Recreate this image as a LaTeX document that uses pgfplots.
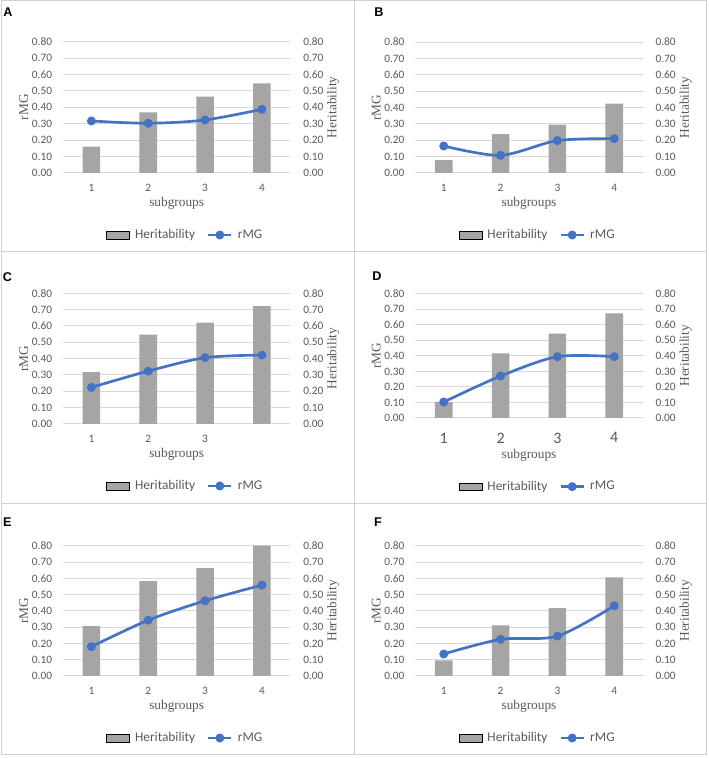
\documentclass[border=0pt]{standalone}
\usepackage{fontspec}
\setmainfont{Carlito}
\newfontfamily\serifl{Liberation Serif}
\newfontfamily\arialf{Liberation Sans}
\usepackage{pgfplots}
\pgfplotsset{compat=1.18}

\definecolor{barc}{HTML}{A5A5A5}
\definecolor{linec}{HTML}{4472C4}
\definecolor{txtc}{HTML}{595959}
\definecolor{gridc}{HTML}{D9D9D9}
\definecolor{framec}{HTML}{D0D0D0}

\pgfplotsset{
  panelbase/.style={
    scale only axis, width=170.5pt, anchor=south west,
    xmin=0.5, xmax=4.5, ymin=0, ymax=0.8,
    xtick={1,2,3,4}, ytick={0,0.1,0.2,0.3,0.4,0.5,0.6,0.7,0.8},
    major tick length=0,
    tick label style={font=\fontsize{8.5}{10}\selectfont, text=txtc},
    yticklabel style={/pgf/number format/fixed, /pgf/number format/fixed zerofill,
      /pgf/number format/precision=2, /pgf/number format/assume math mode=true},
    xticklabel style={/pgf/number format/assume math mode=true},
    label style={font=\serifl\fontsize{10}{12}\selectfont, text=txtc},
    clip=false,
  },
}

% #1 x, #2 y, #3 height, #4 bars, #5 rMG, #6 x tick labels,
% #7 xlabel shift, #8 legend shift, #9 more options for the bar axis
\newcommand{\panel}[9]{%
  \begin{axis}[panelbase, at={(#1,#2)}, height=#3,
    axis y line*=right, axis x line*=bottom,
    x axis line style={draw=gridc, line width=0.75pt},
    y axis line style={draw=none},
    ymajorgrids, grid style={draw=gridc, line width=0.75pt},
    xticklabels={#6},
    xticklabel style={yshift=-5pt},
    yticklabel style={xshift=6.2pt},
    ylabel={Heritability},
    ylabel style={at={(axis description cs:1.189,0.5)}, anchor=center},
    xlabel={subgroups},
    xlabel style={at={(axis description cs:0.5,0)}, anchor=center, yshift=#7},
    #9]
  \addplot[ybar, bar width=0.31, fill=barc, draw=none] coordinates {#4};
  \end{axis}
  \begin{axis}[panelbase, at={(#1,#2)}, height=#3,
    axis y line*=left, axis x line=none,
    y axis line style={draw=none},
    yticklabel style={xshift=-4.7pt},
    ylabel={rMG},
    ylabel style={at={(axis description cs:-0.172,0.5)}, anchor=center},
    legend columns=2,
    legend style={at={(0.54,0)}, anchor=center, yshift=#8, draw=none, fill=none,
      font=\fontsize{10}{12}\selectfont, text=txtc,
      /tikz/every odd column/.append style={column sep=2pt},
      /tikz/every even column/.append style={column sep=7pt}}]
  \addlegendimage{area legend, fill=barc, draw=none}
  \addlegendentry{Heritability}
  \addplot[smooth, color=linec, line width=2pt, mark=*, mark size=2.3pt,
    mark options={fill=linec, draw=linec}] coordinates {#5};
  \addlegendentry{rMG}
  \end{axis}}

\begin{document}
\begin{tikzpicture}
\useasboundingbox (0,0) rectangle (531pt,568.5pt);

% panel frames
\draw[framec, line width=0.75pt] (0.75pt,2.25pt) rectangle (529.5pt,567.75pt);
\draw[framec, line width=0.75pt] (265.5pt,2.25pt) -- (265.5pt,567.75pt);
\draw[framec, line width=0.75pt] (0.75pt,379.5pt) -- (529.5pt,379.5pt);
\draw[framec, line width=0.75pt] (0.75pt,190.5pt) -- (529.5pt,190.5pt);

% A
\panel{47.25pt}{438.75pt}{98.5pt}
  {(1,0.16) (2,0.37) (3,0.465) (4,0.546)}
  {(1,0.317) (2,0.303) (3,0.323) (4,0.388)}
  {1,2,3,4}{-22.5pt}{-46.5pt}{}
% B
\panel{311.5pt}{438.75pt}{98.2pt}
  {(1,0.078) (2,0.237) (3,0.296) (4,0.424)}
  {(1,0.165) (2,0.108) (3,0.198) (4,0.21)}
  {1,2,3,4}{-22.5pt}{-46.5pt}{}
% C
\panel{47.25pt}{250.5pt}{98pt}
  {(1,0.318) (2,0.547) (3,0.62) (4,0.722)}
  {(1,0.224) (2,0.324) (3,0.406) (4,0.422)}
  {1,2,3,}{-22.5pt}{-46.5pt}{}
% D
\panel{311.5pt}{255pt}{93.2pt}
  {(1,0.103) (2,0.416) (3,0.543) (4,0.674)}
  {(1,0.103) (2,0.27) (3,0.395) (4,0.395)}
  {1,2,3,4}{-27.75pt}{-51.5pt}
  {xticklabel style={font=\fontsize{12}{14}\selectfont, yshift=-2.5pt}}
% E
\panel{47.25pt}{61.5pt}{97.7pt}
  {(1,0.307) (2,0.583) (3,0.663) (4,0.80)}
  {(1,0.18) (2,0.343) (3,0.462) (4,0.558)}
  {1,2,3,4}{-22.5pt}{-46.5pt}{}
% F
\panel{311.5pt}{61.5pt}{97.7pt}
  {(1,0.096) (2,0.311) (3,0.417) (4,0.605)}
  {(1,0.135) (2,0.225) (3,0.245) (4,0.431)}
  {1,2,3,4}{-22.5pt}{-46.5pt}{}

% panel letters
\node[font=\arialf\bfseries\fontsize{9.5}{10}\selectfont] at (6pt,559.5pt) {A};
\node[font=\arialf\bfseries\fontsize{9.5}{10}\selectfont] at (284.25pt,559.5pt) {B};
\node[font=\arialf\bfseries\fontsize{9.5}{10}\selectfont] at (5.6pt,360.75pt) {C};
\node[font=\arialf\bfseries\fontsize{9.5}{10}\selectfont] at (282.75pt,361.5pt) {D};
\node[font=\arialf\bfseries\fontsize{9.5}{10}\selectfont] at (5.6pt,177pt) {E};
\node[font=\arialf\bfseries\fontsize{9.5}{10}\selectfont] at (283.5pt,177pt) {F};
\end{tikzpicture}
\end{document}
